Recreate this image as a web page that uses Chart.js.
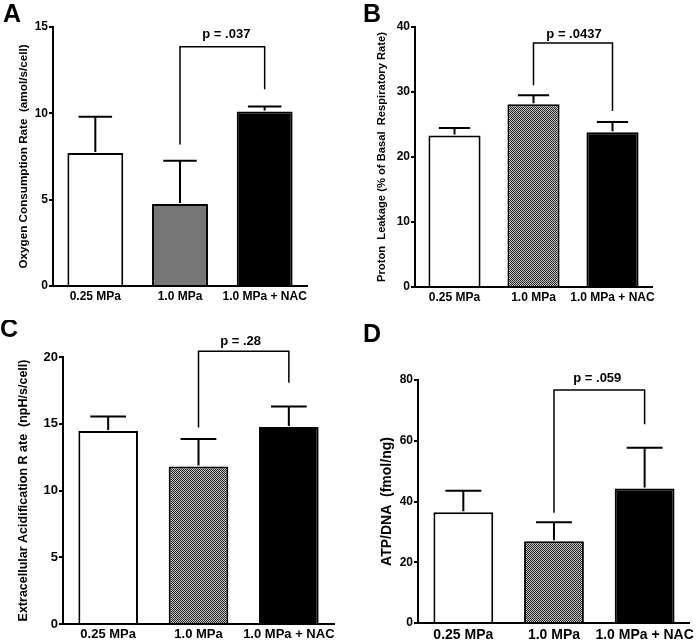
<!DOCTYPE html>
<html>
<head>
<meta charset="utf-8">
<script src="https://cdn.jsdelivr.net/npm/chart.js@4"></script>
<style>
  body { margin: 0; background: #fff; }
  #wrap { position: relative; width: 699px; height: 643px; }
  canvas { position: absolute; }
</style>
</head>
<body>
<div id="wrap">
  <canvas id="chartA" width="350" height="320" style="left:0;top:0"></canvas>
  <canvas id="chartB" width="349" height="320" style="left:350px;top:0"></canvas>
  <canvas id="chartC" width="350" height="323" style="left:0;top:320px"></canvas>
  <canvas id="chartD" width="349" height="323" style="left:350px;top:320px"></canvas>
</div>
<script>
const categories = ["0.25 MPa", "1.0 MPa", "1.0 MPa + NAC"];

// A - oxygen consumption
const ocrMeans = [7.7, 4.75, 10.1];
const ocrErrors = [2.1, 2.5, 0.3];
// B - proton leak
const leakMeans = [23.3, 28.1, 23.8];
const leakErrors = [1.15, 1.4, 1.6];
// C - extracellular acidification
const ecarMeans = [14.45, 11.8, 14.75];
const ecarErrors = [1.1, 2.05, 1.55];
// D - ATP/DNA
const atpMeans = [36.5, 26.9, 44.3];
const atpErrors = [7.0, 6.3, 13.4];

const yMax = [15, 40, 20, 80];
const yStep = [5, 10, 5, 20];

// significance brackets (1.0 MPa vs 1.0 MPa + NAC), in data units
const pLabels = ["p = .037", "p = .0437", "p = .28", "p = .059"];
const bracketTop = [13.85, 37.55, 20.43, 76.7];
const bracketLeftEnd = [8.2, 31.05, 14.72, 36.3];
const bracketRightEnd = [11.4, 27.06, 18.08, 65.4];
const pLabelY = [14.38, 38.37, 20.87, 79.4];

const FONT = "'Liberation Sans', Arial, sans-serif";

function checker() {
    const c = document.createElement("canvas");
    c.width = 2; c.height = 2;
    const g = c.getContext("2d");
    g.fillStyle = "#bdbdbd"; g.fillRect(0, 0, 2, 2);
    g.fillStyle = "#2a2a2a"; g.fillRect(0, 0, 1, 1); g.fillRect(1, 1, 1, 1);
    return g.createPattern(c, "repeat");
}

const extrasPlugin = {
    id: "extras",
    afterDatasetsDraw(chart, args, o) {
        const ctx = chart.ctx;
        const xs = chart.scales.x, ys = chart.scales.y;
        const meta = chart.getDatasetMeta(0);
        ctx.save();
        ctx.strokeStyle = "#000";
        ctx.lineWidth = 2;
        // error bars (upper only)
        o.means.forEach((m, i) => {
            const bar = meta.data[i];
            const x = bar.x;
            const y0 = ys.getPixelForValue(m);
            const y1 = ys.getPixelForValue(m + o.errors[i]);
            const cap = bar.width * 0.3;
            ctx.beginPath();
            ctx.moveTo(x, y0 - 1);
            ctx.lineTo(x, y1);
            ctx.moveTo(x - cap, y1);
            ctx.lineTo(x + cap, y1);
            ctx.stroke();
        });
        // bracket
        const xl = xs.getPixelForValue(1), xr = xs.getPixelForValue(2);
        const yt = ys.getPixelForValue(o.top);
        ctx.lineWidth = 1.5;
        ctx.beginPath();
        ctx.moveTo(xl, ys.getPixelForValue(o.leftEnd));
        ctx.lineTo(xl, yt);
        ctx.lineTo(xr, yt);
        ctx.lineTo(xr, ys.getPixelForValue(o.rightEnd));
        ctx.stroke();
        ctx.fillStyle = "#000";
        ctx.font = "bold 13px " + FONT;
        ctx.textAlign = "center";
        ctx.textBaseline = "alphabetic";
        ctx.fillText(o.pText, (xl + xr) / 2 + o.pShift, ys.getPixelForValue(o.pY));
        // panel letter
        ctx.font = "bold 25px " + FONT;
        ctx.textAlign = "left";
        ctx.fillText(o.letter, o.letterX, o.letterY);
        ctx.restore();
    }
};

function makeChart(id, p) {
    const canvas = document.getElementById(id);
    return new Chart(canvas, {
        type: "bar",
        data: {
            labels: categories,
            datasets: [{
                data: p.means,
                backgroundColor: ["#ffffff", p.midFill, "#000000"],
                borderColor: "#000",
                borderWidth: 2,
                barPercentage: 0.66,
                categoryPercentage: 1
            }]
        },
        options: {
            responsive: false,
            animation: false,
            layout: { padding: { left: 0, top: p.area.top, right: canvas.width - p.area.right, bottom: 0 } },
            plugins: {
                legend: { display: false },
                tooltip: { enabled: false },
                extras: {
                    means: p.means, errors: p.errors,
                    top: p.top, leftEnd: p.leftEnd, rightEnd: p.rightEnd,
                    pText: p.pText, pY: p.pY, pShift: p.pShift,
                    letter: p.letter, letterX: p.letterX, letterY: p.letterY
                }
            },
            scales: {
                x: {
                    grid: { display: false, drawTicks: false },
                    border: { display: true, color: "#000", width: 2 },
                    ticks: {
                        color: "#000", padding: p.xPad, maxRotation: 0, minRotation: 0, autoSkip: false,
                        font: { family: FONT, weight: "bold", size: p.xFont }
                    },
                    afterFit: s => { s.height = canvas.height - p.area.bottom; }
                },
                y: {
                    min: 0, max: p.max,
                    grid: { drawOnChartArea: false, drawTicks: true, tickLength: 4, color: "#000", lineWidth: 2 },
                    border: { display: true, color: "#000", width: 2 },
                    ticks: {
                        stepSize: p.step, color: "#000", padding: 1,
                        font: { family: FONT, weight: "bold", size: p.yFont }
                    },
                    title: {
                        display: true, text: p.yTitle, color: "#000",
                        font: { family: FONT, weight: "bold", size: p.titleSize },
                        padding: { top: p.titlePad, bottom: 0 }
                    },
                    afterFit: s => { s.width = p.area.left; }
                }
            }
        },
        plugins: [extrasPlugin]
    });
}

const pattern = checker();

makeChart("chartA", {
    means: ocrMeans, errors: ocrErrors, midFill: "#777777",
    max: yMax[0], step: yStep[0],
    area: { left: 53, top: 27, right: 307, bottom: 286 },
    yTitle: "Oxygen Consumption Rate  (amol/s/cell)", titleSize: 11.7, titlePad: 16.5,
    xFont: 12, yFont: 12, xPad: 3,
    top: bracketTop[0], leftEnd: bracketLeftEnd[0], rightEnd: bracketRightEnd[0],
    pText: pLabels[0], pY: pLabelY[0], pShift: 4,
    letter: "A", letterX: 3, letterY: 22
});

makeChart("chartB", {
    means: leakMeans, errors: leakErrors, midFill: pattern,
    max: yMax[1], step: yStep[1],
    area: { left: 65, top: 27, right: 302, bottom: 287 },
    yTitle: "Proton  Leakage (% of Basal  Respiratory Rate)", titleSize: 11.2, titlePad: 25.3,
    xFont: 12, yFont: 12, xPad: 3,
    top: bracketTop[1], leftEnd: bracketLeftEnd[1], rightEnd: bracketRightEnd[1],
    pText: pLabels[1], pY: pLabelY[1], pShift: 1,
    letter: "B", letterX: 13, letterY: 22
});

makeChart("chartC", {
    means: ecarMeans, errors: ecarErrors, midFill: pattern,
    max: yMax[2], step: yStep[2],
    area: { left: 63, top: 37, right: 334, bottom: 304 },
    yTitle: "Extracellular Acidification R ate  (npH/s/cell)", titleSize: 12.5, titlePad: 16.5,
    xFont: 13, yFont: 13, xPad: 3,
    top: bracketTop[2], leftEnd: bracketLeftEnd[2], rightEnd: bracketRightEnd[2],
    pText: pLabels[2], pY: pLabelY[2], pShift: -3,
    letter: "C", letterX: 0, letterY: 17
});

makeChart("chartD", {
    means: atpMeans, errors: atpErrors, midFill: pattern,
    max: yMax[3], step: yStep[3],
    area: { left: 68, top: 60, right: 342, bottom: 303 },
    yTitle: "ATP/DNA  (fmol/ng)", titleSize: 14, titlePad: 28.6,
    xFont: 14, yFont: 12, xPad: 4,
    top: bracketTop[3], leftEnd: bracketLeftEnd[3], rightEnd: bracketRightEnd[3],
    pText: pLabels[3], pY: pLabelY[3], pShift: -2,
    letter: "D", letterX: 13, letterY: 22
});
</script>
</body>
</html>
